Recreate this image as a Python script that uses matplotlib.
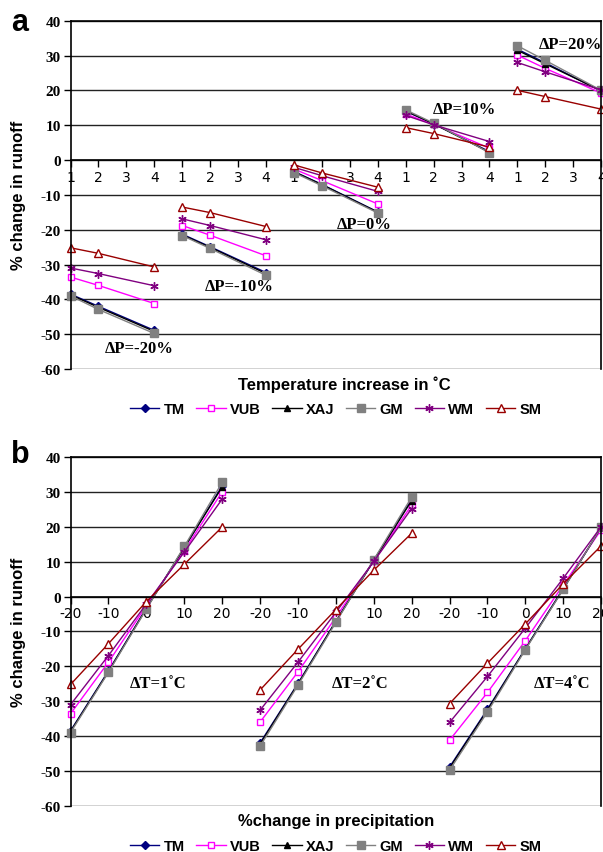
import matplotlib
matplotlib.use('agg')
import matplotlib.pyplot as plt
from matplotlib.lines import Line2D

temps = [1, 2, 4]
precip = [-20, -10, 0, 10, 20]
models = ['TM', 'VUB', 'XAJ', 'GM', 'WM', 'SM']

# % change in runoff, rows: dP = -20,-10,0,10,20 ; cols: dT = 1,2,4
TM = [[-38.5, -42.0, -48.9], [-21.3, -24.9, -32.3], [-3.3, -7.0, -14.9], [14.0, 10.4, 2.4], [31.8, 27.9, 19.8]]
VUB = [[-33.6, -36.0, -41.2], [-18.8, -21.6, -27.5], [-2.6, -5.9, -12.6], [13.2, 10.2, 3.4], [30.1, 26.3, 19.2]]
XAJ = [[-38.7, -42.3, -49.2], [-21.5, -25.1, -32.6], [-3.4, -7.1, -15.0], [14.1, 10.4, 2.2], [31.5, 27.6, 19.9]]
GM = [[-39.0, -42.9, -49.8], [-21.7, -25.4, -33.1], [-3.6, -7.4, -15.2], [14.4, 10.6, 2.1], [32.8, 28.6, 20.0]]
WM = [[-31.0, -32.6, -36.1], [-16.9, -18.8, -22.9], [-2.1, -4.5, -9.0], [12.8, 10.1, 5.3], [28.0, 25.3, 20.1]]
SM = [[-25.2, -26.8, -30.7], [-13.5, -15.1, -19.1], [-1.4, -3.7, -7.8], [9.3, 7.6, 3.7], [20.0, 18.2, 14.6]]
runoff = {'TM': TM, 'VUB': VUB, 'XAJ': XAJ, 'GM': GM, 'WM': WM, 'SM': SM}

colors = {'TM': '#000080', 'VUB': '#ff00ff', 'XAJ': '#000000', 'GM': '#808080', 'WM': '#800080', 'SM': '#990000'}
markers = {'TM': 'D', 'VUB': 's', 'XAJ': '^', 'GM': 's', 'WM': (6, 2, 0), 'SM': '^'}
mfill = {'TM': True, 'VUB': False, 'XAJ': True, 'GM': True, 'WM': True, 'SM': False}
msize = {'TM': 4, 'VUB': 5, 'XAJ': 5, 'GM': 5.5, 'WM': 6, 'SM': 6}

serif = ['Liberation Serif', 'DejaVu Serif']
sans = ['Liberation Sans', 'DejaVu Sans']


def style(m):
	return dict(color=colors[m], marker=markers[m], ms=msize[m], lw=1.0,
		markerfacecolor=colors[m] if mfill[m] else 'white',
		markeredgecolor=colors[m], markeredgewidth=1.0, clip_on=False)


def setup(ax, nx, xlabels, xlabel, xlabx):
	ax.set_xlim(0, nx - 1)
	ax.set_ylim(-60, 40)
	yt = list(range(-60, 41, 10))
	ax.set_yticks(yt)
	ax.set_yticklabels([str(v) for v in yt], fontfamily=serif, fontweight='bold', fontsize=11)
	ax.set_xticks(range(nx))
	ax.set_xticklabels(xlabels, fontfamily=serif, fontweight='bold', fontsize=12)
	for v in yt:
		ax.axhline(v, color='#222222', lw=1.0, zorder=0)
	ax.spines['bottom'].set_position(('data', 0))
	ax.spines['bottom'].set_linewidth(1.2)
	for s in ['left', 'top', 'right']:
		ax.spines[s].set_linewidth(1.2)
	ax.tick_params(axis='x', direction='out', length=5, width=1, pad=2)
	ax.tick_params(axis='y', direction='out', length=5, width=1, pad=2)
	ax.text(xlabx, -0.043, xlabel, transform=ax.transAxes, ha='center', va='center',
		fontfamily=sans, fontweight='bold', fontsize=12)
	handles = [Line2D([], [], **style(m)) for m in models]
	ax.legend(handles, models, loc='center', bbox_to_anchor=(0.5, -0.115), ncol=6, frameon=False,
		handlelength=2.0, handletextpad=0.3, columnspacing=0.8,
		prop={'family': sans, 'weight': 'bold', 'size': 10.5})


fig = plt.figure(figsize=(6.03, 8.53), dpi=100)
axa = fig.add_axes([0.117, 0.5662, 0.880, 0.4084])
axb = fig.add_axes([0.117, 0.0543, 0.880, 0.4084])

# panel a: groups by precipitation change, x = temperature increase
for m in models:
	for i, dp in enumerate(precip):
		xs = [i * 4 + t - 1 for t in temps]
		axa.plot(xs, runoff[m][i], **style(m))
setup(axa, 20, ['1', '2', '3', '4'] * 5, 'Temperature increase in \u02daC', 0.515)
ann_a = [(2.45, -54.0, '\u0394P=-20%'), (6.05, -36.2, '\u0394P=-10%'), (10.5, -18.3, '\u0394P=0%'),
	(14.1, 14.6, '\u0394P=10%'), (17.9, 33.4, '\u0394P=20%')]
for x, y, s in ann_a:
	axa.text(x, y, s, ha='center', va='center', fontfamily=serif, fontweight='bold', fontsize=12)

# panel b: groups by temperature increase, x = precipitation change
for m in models:
	for j, dt in enumerate(temps):
		xs = [j * 5 + k for k in range(len(precip))]
		ys = [runoff[m][i][j] for i in range(len(precip))]
		axb.plot(xs, ys, **style(m))
setup(axb, 15, [str(p) for p in precip] * 3, '%change in precipitation', 0.5)
for j, dt in enumerate(temps):
	axb.text(2.3 + j * 5.33, -24.7, '\u0394T=%d\u02daC' % dt, ha='center', va='center',
		fontfamily=serif, fontweight='bold', fontsize=12)

for ax in (axa, axb):
	ax.set_zorder(1)

fig.text(0.03, 0.7705, '% change in runoff', rotation=90, ha='center', va='center',
	fontfamily=sans, fontweight='bold', fontsize=12)
fig.text(0.03, 0.2585, '% change in runoff', rotation=90, ha='center', va='center',
	fontfamily=sans, fontweight='bold', fontsize=12)
fig.text(0.033, 0.9735, 'a', ha='center', va='center', fontfamily=sans, fontweight='bold', fontsize=22)
fig.text(0.033, 0.4665, 'b', ha='center', va='center', fontfamily=sans, fontweight='bold', fontsize=22)

plt.savefig('out.png', dpi=100)
plt.close()
